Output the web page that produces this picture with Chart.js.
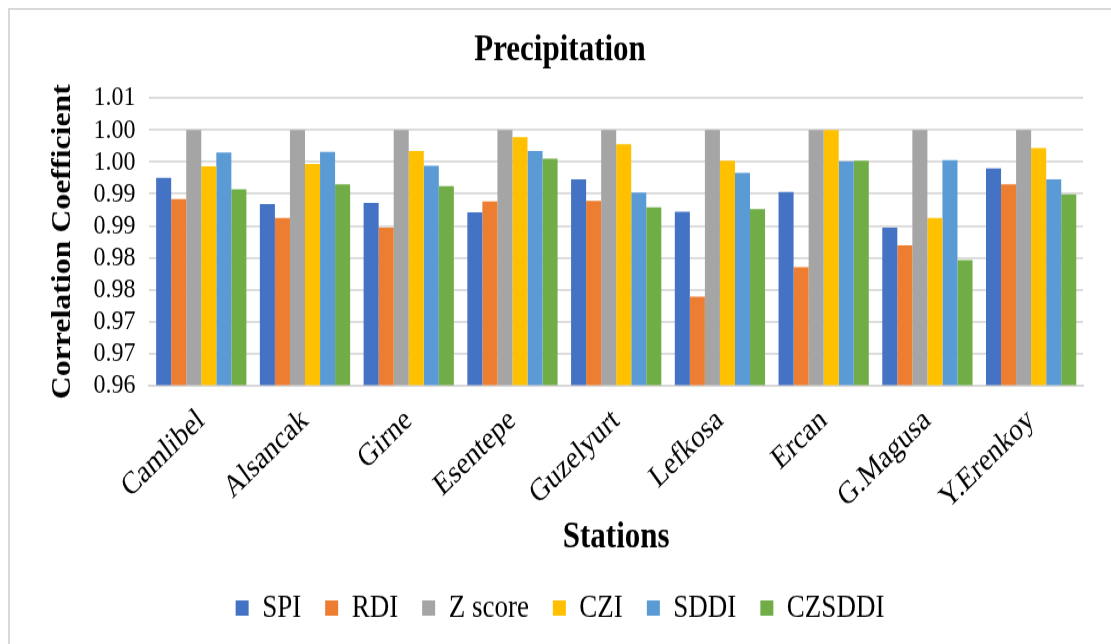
<!DOCTYPE html>
<html>
<head>
<meta charset="utf-8">
<script src="https://cdn.jsdelivr.net/npm/chart.js@4/dist/chart.umd.min.js"></script>
<style>
  html, body { margin: 0; padding: 0; background: #fff; overflow: hidden; }
  #frame { position: absolute; left: 8px; top: 8px; width: 1200px; height: 700px;
           border: 2px solid #d9d9d9; box-sizing: border-box; }
  /* the source picture is stretched vertically, so the chart is drawn shorter and scaled up */
  #wrap { position: absolute; left: 0; top: 0; width: 1111px; height: 539px;
          transform: scaleY(1.1795); transform-origin: 0 0; }
</style>
</head>
<body>
<div id="frame"></div>
<div id="wrap"><canvas id="chart"></canvas></div>
<script>
// Precipitation — correlation coefficient per station and index

const stations = ['Camlibel', 'Alsancak', 'Girne', 'Esentepe', 'Guzelyurt', 'Lefkosa', 'Ercan', 'G.Magusa', 'Y.Erenkoy'];

const spi    = [0.9925, 0.9884, 0.9886, 0.9871, 0.9923, 0.9872, 0.9903, 0.9847, 0.9940];
const rdi    = [0.9892, 0.9862, 0.9847, 0.9888, 0.9889, 0.9739, 0.9785, 0.9819, 0.9915];
const zScore = [1.0000, 1.0000, 1.0000, 1.0000, 1.0000, 1.0000, 1.0000, 1.0000, 1.0000];
const czi    = [0.9943, 0.9947, 0.9967, 0.9989, 0.9978, 0.9952, 1.0000, 0.9862, 0.9972];
const sddi   = [0.9965, 0.9966, 0.9944, 0.9967, 0.9902, 0.9933, 0.9951, 0.9953, 0.9923];
const czsddi = [0.9907, 0.9915, 0.9912, 0.9955, 0.9879, 0.9876, 0.9952, 0.9796, 0.9899];

const yTickValues = [0.96, 0.965, 0.97, 0.975, 0.98, 0.985, 0.99, 0.995, 1.00, 1.005];
const yTickLabels = ['0.96', '0.97', '0.97', '0.98', '0.98', '0.99', '0.99', '1.00', '1.00', '1.01'];

const FONT = '"Liberation Serif", "Times New Roman", serif';

const series = [
    { label: 'SPI',     data: spi,    color: '#4472C4' },
    { label: 'RDI',     data: rdi,    color: '#ED7D31' },
    { label: 'Z score', data: zScore, color: '#A5A5A5' },
    { label: 'CZI',     data: czi,    color: '#FFC000' },
    { label: 'SDDI',    data: sddi,   color: '#5B9BD5' },
    { label: 'CZSDDI',  data: czsddi, color: '#70AD47' }
];

new Chart(document.getElementById('chart').getContext('2d'), {
    type: 'bar',
    data: {
        labels: stations,
        datasets: series.map(s => ({
            label: s.label,
            data: s.data,
            backgroundColor: s.color,
            borderWidth: 0,
            categoryPercentage: 0.87,
            barPercentage: 1.0
        }))
    },
    options: {
        responsive: true,
        maintainAspectRatio: false,
        animation: false,
        layout: { padding: { top: 10, left: 37, right: 28, bottom: 0 } },
        scales: {
            x: {
                grid: { display: false, drawTicks: false },
                border: { display: true, color: '#d9d9d9', width: 2 },
                ticks: {
                    color: '#000',
                    font: { family: FONT, size: 27 },
                    autoSkip: false,
                    minRotation: 40,
                    maxRotation: 40,
                    padding: 14
                },
                title: {
                    display: true,
                    text: 'Stations',
                    color: '#000',
                    font: { family: FONT, size: 31, weight: 'bold' },
                    padding: { top: -15, bottom: 3 }
                }
            },
            y: {
                min: 0.96,
                max: 1.005,
                afterBuildTicks: axis => { axis.ticks = yTickValues.map(v => ({ value: v })); },
                grid: { color: '#d9d9d9', lineWidth: 1.7, drawTicks: false },
                border: { display: false },
                ticks: {
                    color: '#000',
                    font: { family: FONT, size: 24 },
                    autoSkip: false,
                    padding: 14,
                    callback: (v, i) => yTickLabels[i]
                },
                title: {
                    display: true,
                    text: 'Correlation Coefficient',
                    color: '#000',
                    font: { family: FONT, size: 27, weight: 'bold' },
                    padding: { top: 10, bottom: 0 }
                }
            }
        },
        plugins: {
            title: {
                display: true,
                text: 'Precipitation',
                color: '#000',
                font: { family: FONT, size: 31, weight: 'bold' },
                padding: { top: 14, bottom: 22 }
            },
            legend: {
                position: 'bottom',
                labels: {
                    color: '#000',
                    font: { family: FONT, size: 27 },
                    boxWidth: 13,
                    boxHeight: 13,
                    padding: 24
                }
            },
            tooltip: { enabled: false }
        }
    }
});
</script>
</body>
</html>
